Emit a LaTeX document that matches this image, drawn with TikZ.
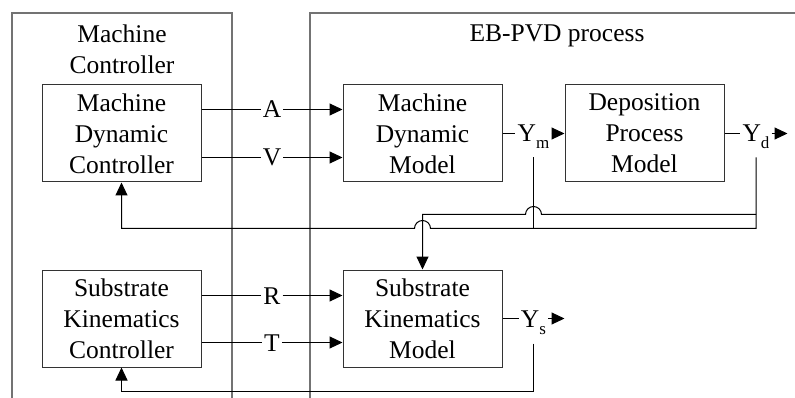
\documentclass[tikz,border=0pt]{standalone}
\usepackage{fontspec}
\setmainfont{Liberation Serif}
\usetikzlibrary{positioning,arrows.meta,calc}
\tikzset{
  blk/.style={draw=black!80,line width=1pt,minimum width=159pt,minimum height=97pt,
            inner sep=0pt,align=center},
  frame/.style={draw=black!55,line width=1.2pt},
  sig/.style={line width=1pt},
  sigarr/.style={-{Triangle[length=13pt,width=12pt]},line width=1pt},
  lab/.style={inner sep=2pt,text height=17pt,text depth=0pt},
}
\newcommand{\ysub}[1]{Y\raisebox{-7pt}{\fontsize{17}{17}\selectfont #1}}

\begin{document}
\begin{tikzpicture}[font=\fontsize{25.5}{31}\selectfont]
  \useasboundingbox (0,0) rectangle (795pt,-398pt);
  \draw[frame] (12pt,-398pt) |- (232pt,-13pt) -- (232pt,-398pt);
  \draw[frame] (310pt,-398pt) |- (795pt,-13pt);
  \node[align=center] (mctitle) at (122pt,-49pt) {Machine\\Controller};
  \node[lab] (ebtitle) at (557pt,-33.5pt) {EB-PVD process};

  \node[blk] (mdc) at (121.5pt,-133.5pt) {Machine\\Dynamic\\Controller};
  \node[blk,right=141pt of mdc] (mdm) {Machine\\Dynamic\\Model};
  \node[blk,right=62pt of mdm] (dpm) {Deposition\\Process\\Model};
  \node[blk,below=87pt of mdc] (skc) {Substrate\\Kinematics\\Controller};
  \node[blk,below=87pt of mdm] (skm) {Substrate\\Kinematics\\Model};

  \node[lab] (a) at ($(mdc.east)!0.5!(mdm.west)+(0,24pt)$) {A};
  \node[lab] (v) at ($(mdc.east)!0.5!(mdm.west)+(0,-24pt)$) {V};
  \draw[sig] (mdc.east |- a) -- (a);
  \draw[sigarr] (a) -- (mdm.west |- a);
  \draw[sig] (mdc.east |- v) -- (v);
  \draw[sigarr] (v) -- (mdm.west |- v);

  \node[lab] (r) at ($(skc.east)!0.5!(skm.west)+(0,23pt)$) {R};
  \node[lab] (t) at ($(skc.east)!0.5!(skm.west)+(0,-24pt)$) {T};
  \draw[sig] (skc.east |- r) -- (r);
  \draw[sigarr] (r) -- (skm.west |- r);
  \draw[sig] (skc.east |- t) -- (t);
  \draw[sigarr] (t) -- (skm.west |- t);

  \node[lab] (ym) at ($(mdm.east)!0.5!(dpm.west)$) {\ysub{m}};
  \draw[sig] (mdm.east) -- (ym);
  \draw[sigarr] (ym) -- (dpm.west);

  \coordinate (ydend) at ([xshift=63pt]dpm.east);
  \node[lab] (yd) at ($(dpm.east)!0.5!(ydend)$) {\ysub{d}};
  \draw[sig] (dpm.east) -- (yd);
  \draw[sigarr] (yd) -- (ydend);

  \coordinate (ysend) at ([xshift=62pt]skm.east);
  \node[lab] (ys) at ($(skm.east)!0.5!(ysend)$) {\ysub{s}};
  \draw[sig] (skm.east) -- (ys);
  \draw[sigarr] (ys) -- (ysend);

  \coordinate (ymtap) at ([yshift=-24pt]ym.center);
  \coordinate (ydtap) at ([yshift=-24pt]yd.center);
  \coordinate (ystap) at ([yshift=-25pt]ys.center);
  \coordinate (hi) at ([yshift=-32pt]mdm.south);
  \coordinate (lo) at ([yshift=-46pt]mdm.south);

  \draw[sigarr] (ydtap) |- ($(skm.north |- lo)+(8pt,0)$)
    arc[start angle=0,end angle=180,radius=8pt] -- (mdc.south |- lo) -- (mdc.south);
  \draw[sig] (ymtap) -- (ymtap |- lo);
  \draw[sigarr] (ydtap |- hi) -- ($(ymtap |- hi)+(8pt,0)$)
    arc[start angle=0,end angle=180,radius=8pt] -- (skm.north |- hi) -- (skm.north);
  \draw[sigarr] (ystap) |- ([yshift=-24pt]skc.south) -- (skc.south);
\end{tikzpicture}
\end{document}
